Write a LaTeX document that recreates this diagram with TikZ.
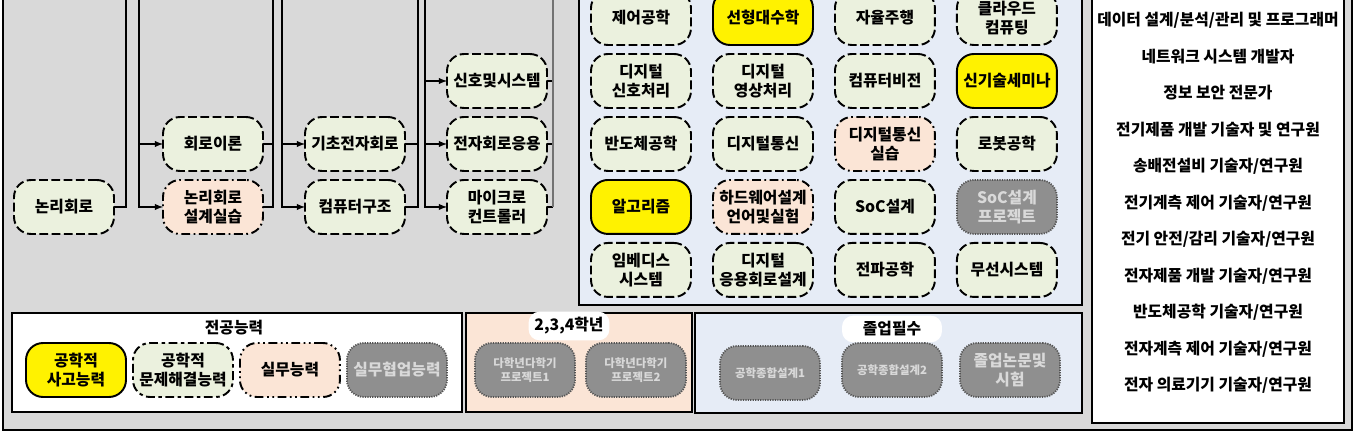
\documentclass[tikz,border=0pt]{standalone}
\usepackage{fontspec}
\setmainfont{Noto Sans CJK KR}
\usetikzlibrary{positioning}

\definecolor{framegray}{HTML}{D9D9D9}
\definecolor{basicgreen}{HTML}{EBF1DE}
\definecolor{labpeach}{HTML}{FBE5D6}
\definecolor{panelblue}{HTML}{E6ECF6}
\definecolor{projgray}{HTML}{8F8F8F}
\definecolor{projborder}{HTML}{555555}

\tikzset{
    course/.style={rectangle, rounded corners=0.34cm, minimum width=2cm, minimum height=1.08cm, align=center, line width=1.1pt, outer sep=0pt, inner sep=1pt, font=\bfseries\fontsize{9}{10.5}\selectfont},
    basicbox/.style={course, draw=black, fill=basicgreen, dash pattern=on 5pt off 2pt},
    labbox/.style={course, draw=black, fill=labpeach, dash pattern=on 5pt off 2pt on 1pt off 2pt},
    corebox/.style={course, draw=black, fill=yellow},
    projbox/.style={course, draw=projborder, fill=projgray, text=white!85!black, line width=1pt, dash pattern=on 0.7pt off 0.7pt},
    solvebox/.style={course, draw=black, fill=basicgreen, dash pattern=on 5pt off 2pt on 2pt off 2pt},
    skillbox/.style={course, draw=black, fill=labpeach, dash pattern=on 5pt off 2pt on 1pt off 2pt on 1pt off 2pt},
    smalltext/.style={font=\bfseries\fontsize{6.5}{8}\selectfont},
    panel/.style={draw=black, line width=0.8pt},
    pill/.style={rectangle, rounded corners=0.22cm, fill=white, minimum height=0.44cm, font=\bfseries\fontsize{9}{10.5}\selectfont},
    titletext/.style={font=\bfseries\fontsize{9}{10.5}\selectfont},
    jobtext/.style={font=\bfseries\fontsize{9}{10.5}\selectfont, inner sep=0pt},
    link/.style={line width=0.6pt},
}

\begin{document}
\begin{tikzpicture}[x=0.02cm, y=-0.02cm]
    \useasboundingbox (0,0) rectangle (1357,436);
    \clip (0,0) rectangle (1357,436);
    \draw [line width=1pt, fill=framegray] (3,-20) rectangle (1352,430);

    \node [basicbox] (logic) at (64,207) {논리회로};
    \node [basicbox] (theory) at (213,144) {회로이론};
    \node [labbox, below=0.18cm of theory] (logiclab) {논리회로\\설계실습};
    \node [basicbox] (elec) at (355,144) {기초전자회로};
    \node [basicbox, below=0.18cm of elec] (arch) {컴퓨터구조};
    \node [basicbox] (signal) at (497,81) {신호및시스템};
    \node [basicbox, below=0.18cm of signal] (elecapp) {전자회로응용};
    \node [basicbox, below=0.18cm of elecapp] (micro) {마이크로\\컨트롤러};

    \coordinate (topa) at (126,-5);
    \coordinate (topb) at (139,-5);
    \coordinate (topc) at (273,-5);
    \coordinate (topd) at (282,-5);
    \coordinate (tope) at (418,-5);
    \coordinate (topf) at (425,-5);
    \coordinate (topg) at (553,-5);

    \draw [link] (logic.east) -| (topa);
    \draw [link, -latex] (topb) |- (logiclab.west);
    \draw [link, -latex] (topb |- theory.west) -- (theory.west);
    \draw [link] (theory.east) -| (topc);
    \draw [link] (logiclab.east) -| (topc);
    \draw [link, -latex] (topd) |- (arch.west);
    \draw [link, -latex] (topd |- elec.west) -- (elec.west);
    \draw [link] (elec.east) -| (tope);
    \draw [link] (arch.east) -| (tope);
    \draw [link, -latex] (topf) |- (micro.west);
    \draw [link, -latex] (topf |- elecapp.west) -- (elecapp.west);
    \draw [link, -latex] (topf |- signal.west) -- (signal.west);
    \draw [link] (micro.east) -- (topg |- micro.east);
    \draw [link] (elecapp.east) -- (topg |- elecapp.east);
    \draw [link] (signal.east) -- (topg |- signal.east);
    \draw [link, draw=black!55] (topg |- micro.east) -- (topg);

    \draw [panel, fill=panelblue] (579,-20) rectangle (1082,305);
    \node [basicbox] (control) at (641,18) {제어공학};
    \node [corebox, right=0.44cm of control] (linalg) {선형대수학};
    \node [basicbox, right=0.44cm of linalg] (autodrive) {자율주행};
    \node [basicbox, right=0.44cm of autodrive] (cloud) {클라우드\\컴퓨팅};
    \node [basicbox, below=0.18cm of control] (dsp) {디지털\\신호처리};
    \node [basicbox, below=0.18cm of linalg] (imgproc) {디지털\\영상처리};
    \node [basicbox, below=0.18cm of autodrive] (vision) {컴퓨터비전};
    \node [corebox, below=0.18cm of cloud] (seminar) {신기술세미나};
    \node [basicbox, below=0.18cm of dsp] (semi) {반도체공학};
    \node [basicbox, below=0.18cm of imgproc] (digcomm) {디지털통신};
    \node [labbox, below=0.18cm of vision] (commlab) {디지털통신\\실습};
    \node [basicbox, below=0.18cm of seminar] (robot) {로봇공학};
    \node [corebox, below=0.18cm of semi] (algo) {알고리즘};
    \node [labbox, below=0.18cm of digcomm] (hdl) {하드웨어설계\\언어및실험};
    \node [basicbox, below=0.18cm of commlab] (soc) {SoC설계};
    \node [projbox, below=0.18cm of robot] (socproj) {SoC설계\\프로젝트};
    \node [basicbox, below=0.18cm of algo] (embedded) {임베디스\\시스템};
    \node [basicbox, below=0.18cm of hdl] (appcircuit) {디지털\\응용회로설계};
    \node [basicbox, below=0.18cm of soc] (radio) {전파공학};
    \node [basicbox, below=0.18cm of socproj] (wireless) {무선시스템};

    \draw [panel, fill=white] (1092,-20) rectangle (1344,423);
    \node [jobtext] (job1) at (1218,20) {데이터 설계/분석/관리 및 프로그래머};
    \node [jobtext] (job2) at (1218,57) {네트워크 시스템 개발자};
    \node [jobtext] (job3) at (1218,93) {정보 보안 전문가};
    \node [jobtext] (job4) at (1218,130) {전기제품 개발 기술자 및 연구원};
    \node [jobtext] (job5) at (1218,166) {송배전설비 기술자/연구원};
    \node [jobtext] (job6) at (1218,203) {전기계측 제어 기술자/연구원};
    \node [jobtext] (job7) at (1218,239) {전기 안전/감리 기술자/연구원};
    \node [jobtext] (job8) at (1218,276) {전자제품 개발 기술자/연구원};
    \node [jobtext] (job9) at (1218,312) {반도체공학 기술자/연구원};
    \node [jobtext] (job10) at (1218,349) {전자계측 제어 기술자/연구원};
    \node [jobtext] (job11) at (1218,385) {전자 의료기기 기술자/연구원};

    \draw [panel, fill=white] (12,313) rectangle (462,412);
    \node [titletext] (majortitle) at (234,328) {전공능력};
    \node [corebox] (thinking) at (76,370) {공학적\\사고능력};
    \node [solvebox, right=0.14cm of thinking] (solving) {공학적\\문제해결능력};
    \node [skillbox, right=0.14cm of solving] (practice) {실무능력};
    \node [projbox, right=0.14cm of practice] (teamwork) {실무협업능력};

    \draw [panel, fill=labpeach] (466,313) rectangle (692,412);
    \node [pill, minimum width=1.6cm] (gradetitle) at (569,326) {2,3,4학년};
    \node [projbox, smalltext] (multi1) at (525,370) {다학년다학기\\프로젝트1};
    \node [projbox, smalltext, right=0.22cm of multi1] (multi2) {다학년다학기\\프로젝트2};

    \draw [panel, fill=panelblue] (695,313) rectangle (1082,413);
    \node [pill, minimum width=2cm] (gradtitle) at (892,329) {졸업필수};
    \node [projbox, smalltext] (capstone1) at (770,373) {공학종합설계1};
    \node [projbox, smalltext] (capstone2) at (892,370) {공학종합설계2};
    \node [projbox] (thesis) at (1010,370) {졸업논문및\\시험};
\end{tikzpicture}
\end{document}
